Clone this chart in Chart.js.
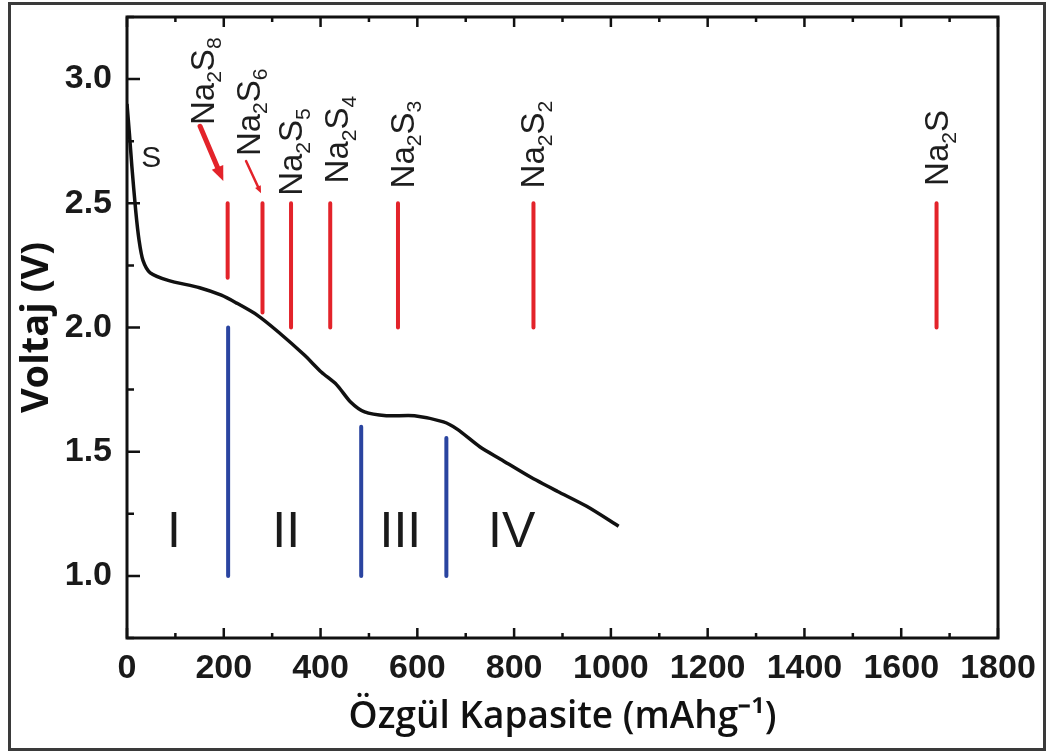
<!DOCTYPE html>
<html>
<head>
<meta charset="utf-8">
<script src="https://cdn.jsdelivr.net/npm/chart.js@4.4.1/dist/chart.umd.min.js"></script>
<style>
  html, body { margin: 0; padding: 0; background: #fff; }
  #wrap { width: 1046px; height: 754px; position: relative; }
</style>
</head>
<body>
<div id="wrap"><canvas id="capChart"></canvas></div>
<script>
// discharge curve (mAh/g, V)
const capacity = [0, 5, 10, 18, 25, 33, 48, 85, 150, 195, 225, 269, 314, 366, 402, 433, 462, 491, 536, 594, 654, 683, 729, 772, 832, 890, 950, 1016];
const voltage = [2.90, 2.78, 2.65, 2.47, 2.35, 2.27, 2.22, 2.19, 2.16, 2.13, 2.10, 2.05, 1.98, 1.89, 1.82, 1.77, 1.70, 1.66, 1.645, 1.645, 1.62, 1.59, 1.52, 1.47, 1.40, 1.34, 1.28, 1.20];

// theoretical capacities of the sodium sulfides (red markers)
const speciesLabels = ['Na2S8', 'Na2S6', 'Na2S5', 'Na2S4', 'Na2S3', 'Na2S2', 'Na2S'];
const speciesCapacity = [208, 280, 339, 420, 560, 840, 1673];
const redTop = [2.5, 2.5, 2.5, 2.5, 2.5, 2.5, 2.5];
const redBottom = [2.2, 2.06, 2.0, 2.0, 2.0, 2.0, 2.0];
const labelCapacity = [155, 250, 338, 433, 569, 838, 1673];
const labelVoltage = [2.815, 2.69, 2.53, 2.58, 2.56, 2.56, 2.57];

// region boundaries (blue markers)
const blueCapacity = [209, 484, 660];
const blueTop = [2.0, 1.6, 1.555];
const blueBottom = [1.0, 1.0, 1.0];

const romanLabels = ['I', 'II', 'III', 'IV'];
const romanCapacity = [97, 329, 565, 795];
const romanVoltage = [1.17, 1.17, 1.17, 1.17];

const arrowFrom = [[151, 2.81], [246, 2.67]];
const arrowTo = [[199, 2.59], [277, 2.54]];
const arrowWidth = [5, 2.5];

const xTicks = [0, 200, 400, 600, 800, 1000, 1200, 1400, 1600, 1800];
const yTicks = [1.0, 1.5, 2.0, 2.5, 3.0];

const RED = '#e3232a';
const BLUE = '#2a44a0';

const datasets = [{
    label: 'curve',
    data: capacity.map((c, i) => ({ x: c, y: voltage[i] })),
    borderColor: '#111',
    borderWidth: 3.5,
    pointRadius: 0,
    showLine: true,
    tension: 0.25,
    order: 0
}];
speciesCapacity.forEach((c, i) => {
    datasets.push({
        label: speciesLabels[i],
        data: [{ x: c, y: redTop[i] }, { x: c, y: redBottom[i] }],
        borderColor: RED,
        borderWidth: 4,
        borderCapStyle: 'round',
        pointRadius: 0,
        showLine: true,
        order: 1
    });
});
blueCapacity.forEach((c, i) => {
    datasets.push({
        label: 'b' + i,
        data: [{ x: c, y: blueTop[i] }, { x: c, y: blueBottom[i] }],
        borderColor: BLUE,
        borderWidth: 4,
        borderCapStyle: 'round',
        pointRadius: 0,
        showLine: true,
        order: 1
    });
});

function formula(ctx, text, cx, by, size) {
    // rotated formula, digits as subscripts
    ctx.save();
    ctx.translate(cx, by);
    ctx.rotate(-Math.PI / 2);
    ctx.fillStyle = '#1e1e1e';
    ctx.textBaseline = 'alphabetic';
    ctx.textAlign = 'left';
    const cap = size * 0.716;
    let pos = 0;
    for (const ch of text) {
        if (/\d/.test(ch)) {
            ctx.font = (size * 0.64) + 'px "Liberation Sans", Arial, sans-serif';
            ctx.fillText(ch, pos, cap / 2 + size * 0.22);
        } else {
            ctx.font = size + 'px "Liberation Sans", Arial, sans-serif';
            ctx.fillText(ch, pos, cap / 2);
        }
        pos += ctx.measureText(ch).width;
    }
    ctx.restore();
}

const decor = {
    id: 'decor',
    beforeDraw(chart) {
        const ctx = chart.ctx;
        ctx.save();
        ctx.fillStyle = '#fff';
        ctx.fillRect(0, 0, chart.width, chart.height);
        ctx.strokeStyle = '#3a3a3a';
        ctx.lineWidth = 3;
        ctx.strokeRect(9.5, 3.5, 1035, 746);
        ctx.restore();
    },
    afterDatasetsDraw(chart) {
        const ctx = chart.ctx;
        const xs = chart.scales.x, ys = chart.scales.y;
        const a = chart.chartArea;
        ctx.save();
        // frame
        ctx.strokeStyle = '#111';
        ctx.lineWidth = 3;
        ctx.strokeRect(a.left, a.top, a.right - a.left, a.bottom - a.top);
        // inward ticks
        ctx.lineWidth = 2.5;
        ctx.beginPath();
        for (let v = 0; v <= 1800; v += 100) {
            const px = xs.getPixelForValue(v);
            const len = v % 200 === 0 ? 10 : 5;
            ctx.moveTo(px, a.bottom); ctx.lineTo(px, a.bottom - len);
            ctx.moveTo(px, a.top); ctx.lineTo(px, a.top + len);
        }
        for (let v = 0.75; v <= 3.25001; v += 0.25) {
            const py = ys.getPixelForValue(v);
            const major = Math.abs(v * 2 - Math.round(v * 2)) < 1e-6;
            ctx.moveTo(a.left, py); ctx.lineTo(a.left + (major ? 13 : 7), py);
        }
        ctx.stroke();

        // species labels
        speciesLabels.forEach((t, i) => {
            formula(ctx, t, xs.getPixelForValue(labelCapacity[i]), ys.getPixelForValue(labelVoltage[i]), 33);
        });
        // sulfur label
        ctx.fillStyle = '#1e1e1e';
        ctx.font = '30px "Liberation Sans", Arial, sans-serif';
        ctx.textAlign = 'center';
        ctx.textBaseline = 'middle';
        ctx.fillText('S', xs.getPixelForValue(50), ys.getPixelForValue(2.68));

        // roman numerals
        ctx.font = '50px "Liberation Sans", Arial, sans-serif';
        ctx.fillStyle = '#1a1a1a';
        romanLabels.forEach((t, i) => {
            ctx.fillText(t, xs.getPixelForValue(romanCapacity[i]), ys.getPixelForValue(romanVoltage[i]));
        });

        // red arrows
        ctx.strokeStyle = RED;
        ctx.fillStyle = RED;
        ctx.lineCap = 'round';
        arrowFrom.forEach((f, i) => {
            const x0 = xs.getPixelForValue(f[0]), y0 = ys.getPixelForValue(f[1]);
            const x1 = xs.getPixelForValue(arrowTo[i][0]), y1 = ys.getPixelForValue(arrowTo[i][1]);
            const ang = Math.atan2(y1 - y0, x1 - x0);
            const head = arrowWidth[i] * 3.2;
            ctx.lineWidth = arrowWidth[i];
            ctx.beginPath();
            ctx.moveTo(x0, y0);
            ctx.lineTo(x1 - Math.cos(ang) * head * 0.8, y1 - Math.sin(ang) * head * 0.8);
            ctx.stroke();
            ctx.beginPath();
            ctx.moveTo(x1, y1);
            ctx.lineTo(x1 - Math.cos(ang - 0.4) * head, y1 - Math.sin(ang - 0.4) * head);
            ctx.lineTo(x1 - Math.cos(ang + 0.4) * head, y1 - Math.sin(ang + 0.4) * head);
            ctx.closePath();
            ctx.fill();
        });
        ctx.restore();
    }
};

const tickFont = { family: '"Liberation Sans", Arial, sans-serif', size: 34, weight: 'bold' };

new Chart(document.getElementById('capChart').getContext('2d'), {
    type: 'scatter',
    data: { datasets: datasets },
    options: {
        responsive: true,
        maintainAspectRatio: false,
        animation: false,
        layout: { padding: { left: 0, top: 17, right: 48, bottom: 0 } },
        scales: {
            x: {
                type: 'linear',
                min: 0,
                max: 1800,
                grid: { display: false, drawTicks: false },
                border: { display: false },
                afterFit: (s) => { s.height = 116; s.paddingLeft = 0; s.paddingRight = 0; },
                ticks: {
                    stepSize: 200,
                    autoSkip: false,
                    maxRotation: 0,
                    padding: 10,
                    color: '#1a1a1a',
                    font: tickFont,
                    callback: (v) => xTicks.includes(v) ? String(v) : ''
                },
                title: {
                    display: true,
                    text: 'Özgül Kapasite (mAhg⁻¹)',
                    color: '#111',
                    font: { family: '"Open Sans", sans-serif', size: 37, weight: '600', lineHeight: 1.2 },
                    padding: { top: 0, bottom: 14 }
                }
            },
            y: {
                type: 'linear',
                min: 0.75,
                max: 3.25,
                grid: { display: false, drawTicks: false },
                border: { display: false },
                afterFit: (s) => { s.width = 127; s.paddingTop = 0; s.paddingBottom = 0; },
                ticks: {
                    stepSize: 0.25,
                    autoSkip: false,
                    padding: 15,
                    color: '#1a1a1a',
                    font: tickFont,
                    callback: (v) => yTicks.some(t => Math.abs(t - v) < 1e-6) ? v.toFixed(1) : ''
                },
                title: {
                    display: true,
                    text: 'Voltaj (V)',
                    color: '#111',
                    font: { family: '"Open Sans", sans-serif', size: 38, weight: 'bold', lineHeight: 1.2 },
                    padding: { top: 14, bottom: 0 }
                }
            }
        },
        plugins: {
            legend: { display: false },
            title: { display: false },
            tooltip: { enabled: false }
        }
    },
    plugins: [decor]
});
</script>
</body>
</html>
